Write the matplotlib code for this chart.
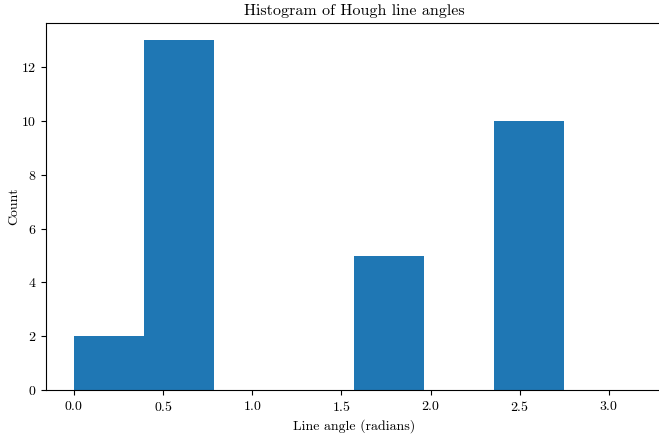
import matplotlib
matplotlib.use("Agg")
import matplotlib.pyplot as plt
import numpy as np

# histogram counts per bin (8 bins spanning 0..pi)
n_bins = 8
angle_max = np.pi
counts = [2, 13, 0, 0, 5, 0, 10, 0]

plt.rcParams["font.family"] = "serif"
plt.rcParams["font.serif"] = ["cmr10"]
plt.rcParams["mathtext.fontset"] = "cm"
plt.rcParams["axes.formatter.use_mathtext"] = True

edges = np.linspace(0, angle_max, n_bins + 1)
centers = (edges[:-1] + edges[1:]) / 2

fig = plt.figure(figsize=(6.59, 4.34), dpi=100)
ax = fig.add_axes([46 / 659, 1 - 390 / 434, 616 / 659, 367 / 434])
ax.hist(centers, bins=edges, weights=counts, color="#1f77b4")
ax.spines["right"].set_visible(False)
ax.set_xlabel("Line angle (radians)", fontsize=10)
ax.set_ylabel("Count", fontsize=10, labelpad=0.5)
ax.set_title("Histogram of Hough line angles", fontsize=11.5)
ax.tick_params(labelsize=10)
fig.savefig("out.png", dpi=100)
